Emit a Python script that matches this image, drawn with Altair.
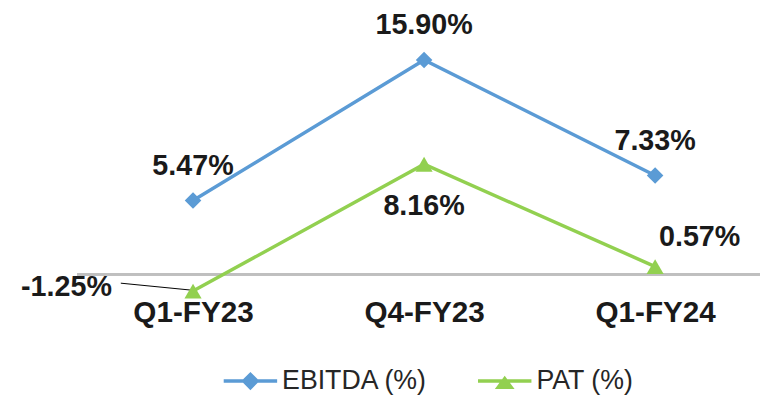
import altair as alt
import pandas as pd

quarters = ["Q1-FY23", "Q4-FY23", "Q1-FY24"]
ebitda = [5.47, 15.90, 7.33]
pat = [-1.25, 8.16, 0.57]
series_names = ["EBITDA (%)", "PAT (%)"]
colors = ["#5B9BD5", "#92D050"]

rows = []
for q, v in zip(quarters, ebitda):
    rows.append({"quarter": q, "series": series_names[0], "value": v})
for q, v in zip(quarters, pat):
    rows.append({"quarter": q, "series": series_names[1], "value": v})
df = pd.DataFrame(rows)

FONT = "Liberation Sans"
TXT = "#1a1a1a"

yscale = alt.Scale(domain=[0, 19.6], nice=False, zero=False)

xenc = alt.X(
    "quarter:N",
    sort=quarters,
    scale=alt.Scale(type="point", domain=quarters, range=[117, 584], padding=0),
    axis=alt.Axis(
        title=None, labelAngle=0, ticks=False, grid=False, domain=False,
        labelFont=FONT, labelFontSize=30, labelFontWeight="bold",
        labelColor=TXT, labelPadding=24, labelLimit=400, labelOverlap=False,
    ),
)
yenc = alt.Y("value:Q", scale=yscale, axis=None)

base = alt.Chart(df).encode(x=xenc, y=yenc).transform_calculate(
    label="replace(format(datum.value, '.2f'), '\u2212', '-') + '%'"
)

zero_line = alt.Chart(df).transform_calculate(zero="0").mark_rule(
    color="#BFBFBF", strokeWidth=2.5
).encode(y=alt.Y("zero:Q", scale=yscale, axis=None))

is_e = alt.datum.series == series_names[0]
is_p = alt.datum.series == series_names[1]

line_e = base.transform_filter(is_e).mark_line(strokeWidth=3.5, color=colors[0])
line_p = base.transform_filter(is_p).mark_line(strokeWidth=3.5, color=colors[1])

pts_e = base.transform_filter(is_e).mark_point(
    shape="diamond", filled=True, size=280, opacity=1, color=colors[0]
)
pts_p = base.transform_filter(is_p).mark_point(
    shape="triangle-up", filled=True, size=300, opacity=1, color=colors[1]
)

path_e = "M-1,-0.065L1,-0.065L1,0.065L-1,0.065Z M0,-0.34L0.34,0L0,0.34L-0.34,0Z"
path_p = "M-1,-0.065L1,-0.065L1,0.065L-1,0.065Z M0,-0.2L0.37,0.3L-0.37,0.3Z"

leg = alt.Legend(
    title=None, orient="none", legendX=148, legendY=348, direction="horizontal",
    symbolSize=2916, symbolOpacity=1, symbolStrokeWidth=0,
    labelFont=FONT, labelFontSize=27, labelColor="#262626",
    labelOffset=5, columnPadding=50, labelLimit=400, padding=0,
)

legend_layer = base.transform_filter("false").mark_point(filled=True, opacity=1).encode(
    color=alt.Color("series:N", scale=alt.Scale(domain=series_names, range=colors), legend=leg),
    shape=alt.Shape("series:N", scale=alt.Scale(domain=series_names, range=[path_e, path_p]), legend=leg),
)

tstyle = dict(font=FONT, fontSize=29, fontWeight="bold", color=TXT)

lab_e = base.transform_filter(is_e).mark_text(dy=-35, **tstyle).encode(text="label:N")

lab_p_mid = base.transform_filter(is_p & (alt.datum.quarter == quarters[1])).mark_text(
    dy=42, **tstyle
).encode(text="label:N")

lab_p_last = base.transform_filter(is_p & (alt.datum.quarter == quarters[2])).mark_text(
    dx=45, dy=-30, **tstyle
).encode(text="label:N")

lab_p_first = base.transform_filter(is_p & (alt.datum.quarter == quarters[0])).mark_text(
    dx=-82, dy=-4, align="right", **tstyle
).encode(text="label:N")

leader = base.transform_filter(is_p & (alt.datum.quarter == quarters[0])).mark_rule(
    color="#000000", strokeWidth=1, xOffset=-73, yOffset=-8, x2Offset=-2, y2Offset=-1
).encode(x2="quarter:N", y2="value:Q")

chart = alt.layer(
    zero_line, line_e, line_p, leader, pts_e, pts_p, legend_layer,
    lab_e, lab_p_mid, lab_p_last, lab_p_first,
).properties(
    width=690, height=267,
    padding={"left": 70, "top": 0, "right": 0, "bottom": 123},
    autosize=alt.AutoSizeParams(type="none"),
    background="white",
).configure_view(stroke=None)

chart.save("out.html", embed_options={"renderer": "svg", "actions": False})
